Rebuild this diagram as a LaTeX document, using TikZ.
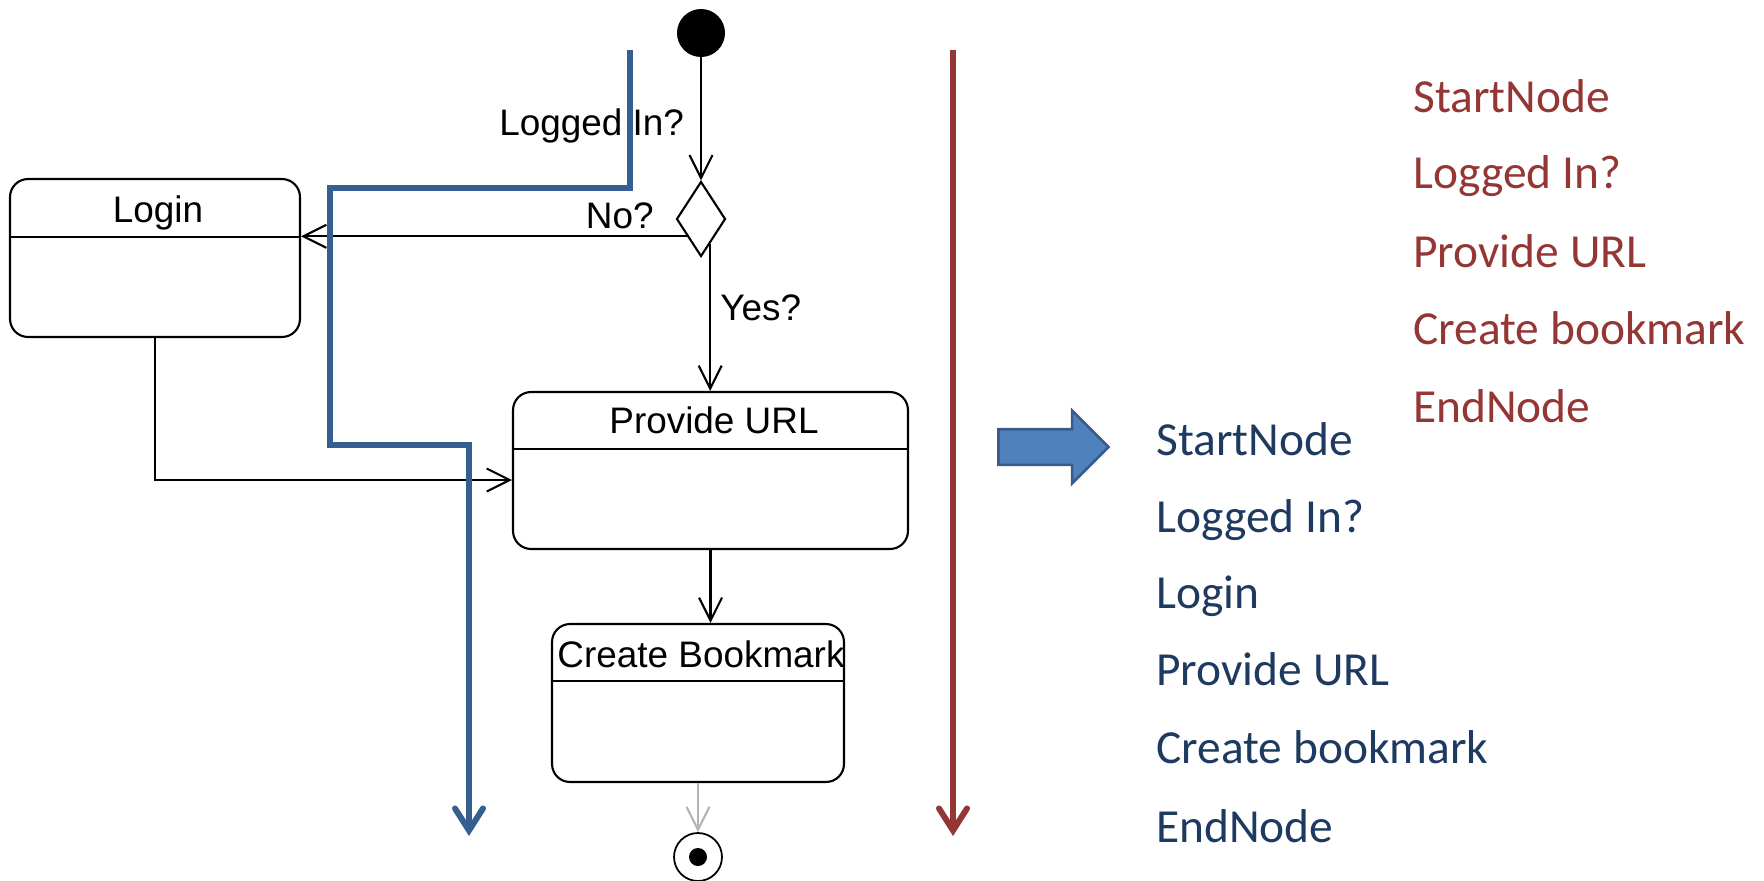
\documentclass[tikz,border=0pt]{standalone}
\usepackage{fontspec}
\newfontfamily\listfont{Carlito}
\newfontfamily\diafont{Liberation Sans}
\usetikzlibrary{arrows.meta,shapes.geometric,shapes.arrows,calc}
\definecolor{redline}{HTML}{943634}
\definecolor{blueline}{HTML}{365F91}
\definecolor{listblue}{HTML}{1F3A60}
\definecolor{arrfill}{HTML}{4F81BD}
\definecolor{arrdraw}{HTML}{385D8A}
\definecolor{greyarr}{HTML}{B4B4B4}
\tikzset{
  actbox/.style={draw=black, line width=1.2pt, rounded corners=0.36cm, inner sep=0pt},
  arr/.style={line width=1.2pt, -{Straight Barb[length=0.46cm,width=0.46cm]}},
  greyconn/.style={arr, draw=greyarr},
  fatline/.style={line width=3.4pt, line join=miter, -{Straight Barb[length=0.44cm,width=0.56cm,line cap=round]}},
  dtext/.style={font=\diafont\fontsize{21}{25}\selectfont, inner sep=0pt},
  ltext/.style={font=\listfont\fontsize{27}{32}\selectfont, inner sep=0pt, anchor=base west},
}
\begin{document}
\begin{tikzpicture}[x=0.02cm, y=-0.02cm]
\useasboundingbox (0,0) rectangle (1764,880);

% nodes of the activity diagram
\node[circle, fill=black, minimum size=0.96cm, inner sep=0pt] (start) at (701,33) {};
\node[diamond, draw=black, line width=1.2pt, minimum width=0.98cm, minimum height=1.5cm, inner sep=0pt] (dia) at (701,219) {};

\node[actbox, minimum width=5.8cm, minimum height=3.16cm] (login) at (155,258) {};
\draw[line width=1.2pt] ($(login.north west)+(0,59)$) -- ($(login.north east)+(0,59)$);
\node[dtext, anchor=base] (logint) at (158,222) {Login};

\node[actbox, minimum width=7.9cm, minimum height=3.14cm] (provide) at (710.5,470.5) {};
\draw[line width=1.2pt] ($(provide.north west)+(0,58)$) -- ($(provide.north east)+(0,58)$);
\node[dtext, anchor=base] (providet) at (714,433) {Provide URL};

\node[actbox, minimum width=5.84cm, minimum height=3.16cm] (create) at (698,703) {};
\draw[line width=1.2pt] ($(create.north west)+(0,58)$) -- ($(create.north east)+(0,58)$);
\node[dtext, anchor=base] (createt) at (701,667) {Create Bookmark};

\node[circle, draw=black, line width=1pt, minimum size=0.96cm, inner sep=0pt] (end) at (698,857) {};
\node[circle, fill=black, minimum size=0.36cm, inner sep=0pt] (enddot) at (end.center) {};

% labels
\node[dtext, anchor=base west] (lbllog) at (499,135) {Logged In?};
\node[dtext, anchor=base east] (lblno) at (654,228) {No?};
\node[dtext, anchor=base west] (lblyes) at (720,320) {Yes?};

% connectors
\draw[arr] (start.south) -- (dia.north);
\coordinate (nostart) at ($(dia.west)!0.45!(dia.south)$);
\draw[arr] (nostart) -- (nostart -| login.east);
\coordinate (yesstart) at ($(dia.south)!0.36!(dia.east)$);
\draw[arr] (yesstart) -- (yesstart |- provide.north);
\coordinate (provin) at ($(provide.west)+(0,9.5)$);
\draw[arr] (login.south) |- (provin);
\draw[arr] (provide.south) -- (provide.south |- create.north);
\draw[greyconn] (create.south) -- (end.north);

% blue traversal path
\coordinate (b0) at (630,50);
\coordinate (b1) at (630,188);
\coordinate (b2) at (330,188);
\coordinate (b3) at (330,445);
\coordinate (b4) at (469,445);
\coordinate (b5) at (469,836);
\draw[fatline, draw=blueline] (b0) -- (b1) -- (b2) -- (b3) -- (b4) -- (b5);

% red traversal path
\coordinate (r0) at (953,50);
\coordinate (r1) at (953,836);
\draw[fatline, draw=redline] (r0) -- (r1);

% big arrow
\node[single arrow, draw=arrdraw, fill=arrfill, line width=1.5pt, minimum height=2.2cm, inner xsep=0pt, inner ysep=0.33cm, single arrow head extend=0.37cm, single arrow tip angle=90] (bigarr) at (1044.5,447) {};

% red list
\node[ltext, text=redline] (r1t) at (1413,112) {StartNode};
\node[ltext, text=redline] (r2t) at (1413,188) {Logged In?};
\node[ltext, text=redline] (r3t) at (1413,267) {Provide URL};
\node[ltext, text=redline] (r4t) at (1413,344) {Create bookmark};
\node[ltext, text=redline] (r5t) at (1413,422) {EndNode};

% blue list
\node[ltext, text=listblue] (b1t) at (1156,455) {StartNode};
\node[ltext, text=listblue] (b2t) at (1156,532) {Logged In?};
\node[ltext, text=listblue] (b3t) at (1156,608) {Login};
\node[ltext, text=listblue] (b4t) at (1156,685) {Provide URL};
\node[ltext, text=listblue] (b5t) at (1156,763) {Create bookmark};
\node[ltext, text=listblue] (b6t) at (1156,842) {EndNode};
\end{tikzpicture}
\end{document}
